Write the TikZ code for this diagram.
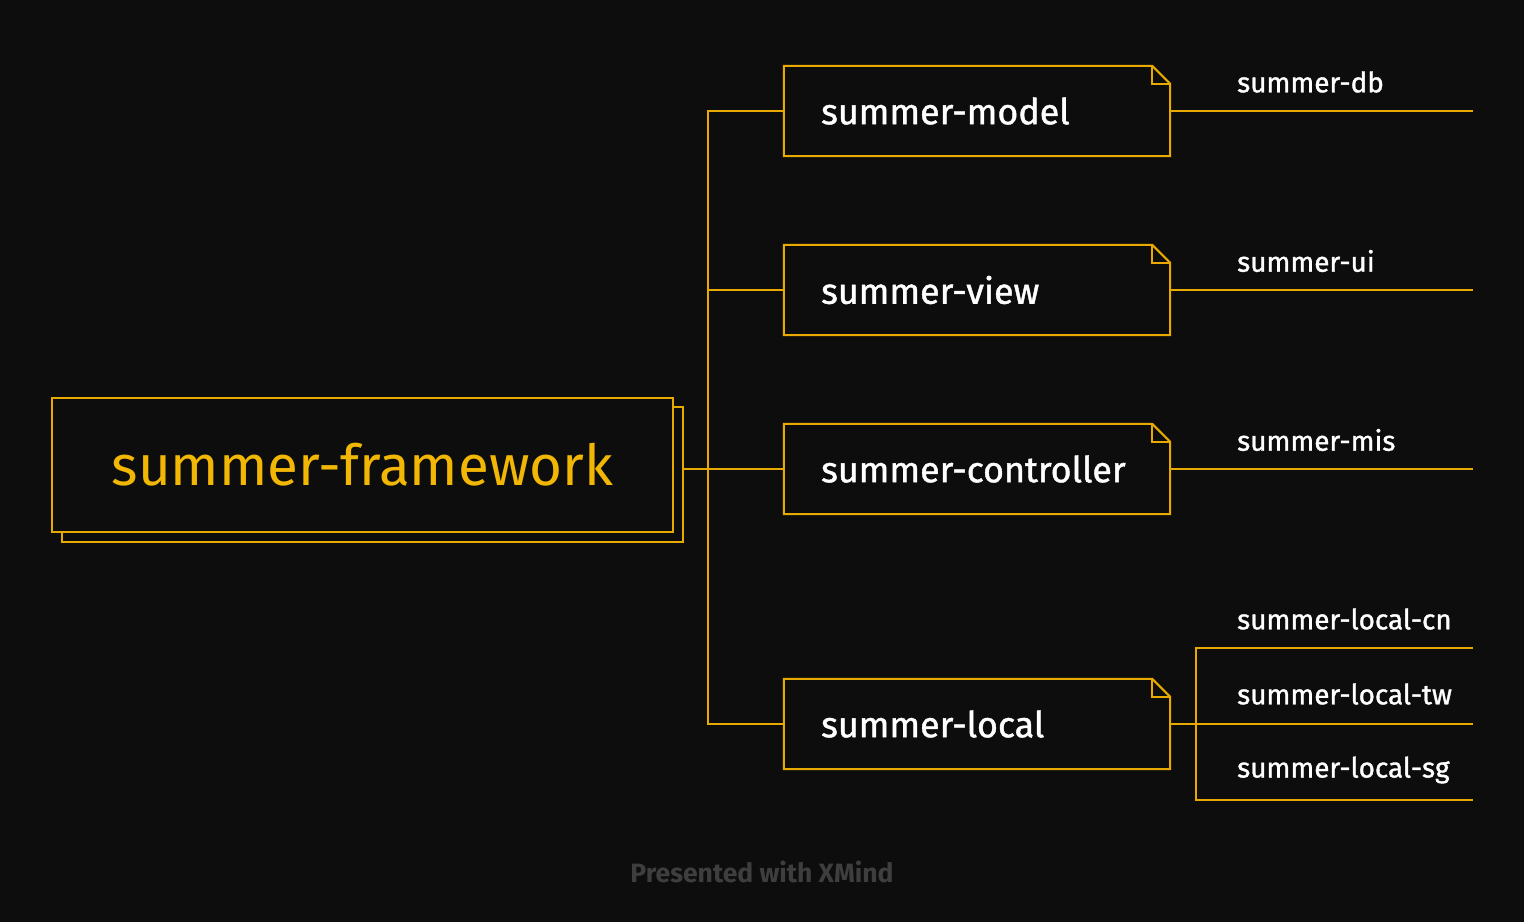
\documentclass[tikz,border=0pt]{standalone}
\usepackage{fontspec}
\setmainfont{Fira Sans}
\newfontfamily\medfont[FakeBold=1.2]{Fira Sans}
\definecolor{bg}{HTML}{0D0D0D}
\definecolor{gold}{HTML}{E8AA00}
\definecolor{goldtext}{HTML}{F2B705}
\definecolor{mark}{HTML}{3E3E3E}
\begin{document}
\begin{tikzpicture}[x=1pt,y=-1pt,
  line/.style={draw=gold,line width=2pt},
  rootbox/.style={minimum width=621pt,minimum height=134pt,inner sep=0pt,
    text=goldtext,font=\fontsize{56.5}{64}\selectfont},
  childbox/.style={minimum width=386pt,minimum height=90pt,inner sep=0pt},
  childtext/.style={anchor=west,text=white,font=\medfont\fontsize{35.8}{40}\selectfont,inner sep=0pt},
  leaftext/.style={anchor=west,text=white,font=\medfont\fontsize{27.9}{30}\selectfont,inner sep=0pt},
  fold/.style={line,fill=bg}]
\useasboundingbox[fill=bg] (0,0) rectangle (1524,922);
% root
\draw[line,fill=bg] (62,407) rectangle (683,542);
\node[rootbox,draw=gold,line width=2pt,fill=bg] (root) at (362.5,465) {summer-framework};
\coordinate (rootE) at (683,469);
\coordinate (trunk) at (708,469);
% child boxes
\foreach \n/\y in {model/111,view/290,controller/469,local/724}{
  \node[childbox] (\n) at (977,\y) {};
  \draw[fold] (\n.south west) -- (\n.north west) -- ([xshift=-18pt]\n.north east)
     -- ([yshift=-18pt]\n.north east) -- (\n.south east) -- cycle;
  \draw[line] ([xshift=-18pt]\n.north east) |- ([yshift=-18pt]\n.north east);
}
\node[childtext] (tmodel) at (821,111) {summer-model};
\node[childtext] (tview) at (821,290) {summer-view};
\node[childtext] (tcontroller) at (821,469) {summer-controller};
\node[childtext] (tlocal) at (821,724) {summer-local};
% root connectors
\draw[line] (rootE) -- (trunk);
\draw[line] (model.west) -| (trunk) |- (local.west);
\draw[line] (trunk |- view.west) -- (view.west);
\draw[line] (trunk) -- (controller.west);
% leaves
\node[leaftext] (db) at (1237,82) {summer-db};
\node[leaftext] (ui) at (1237,261) {summer-ui};
\node[leaftext] (mis) at (1237,440) {summer-mis};
\coordinate (dbE) at (1473,111);
\coordinate (uiE) at (1473,290);
\coordinate (misE) at (1473,469);
\draw[line] (model.east) -- (dbE);
\draw[line] (view.east) -- (uiE);
\draw[line] (controller.east) -- (misE);
\node[leaftext] (cn) at (1237,619) {summer-local-cn};
\node[leaftext] (tw) at (1237,694) {summer-local-tw};
\node[leaftext] (sg) at (1237,770) {summer-local-sg};
\coordinate (lb) at (1196,724);
\coordinate (cnE) at (1473,648);
\coordinate (twE) at (1473,724);
\coordinate (sgE) at (1473,800);
\draw[line] (local.east) -- (lb);
\draw[line] (cnE) -| (lb) |- (sgE);
\draw[line] (lb) -- (twE);
% watermark
\node[text=mark,font=\bfseries\fontsize{26.5}{30}\selectfont,inner sep=0pt] (wm) at (762,872) {Presented with XMind};
\end{tikzpicture}
\end{document}
